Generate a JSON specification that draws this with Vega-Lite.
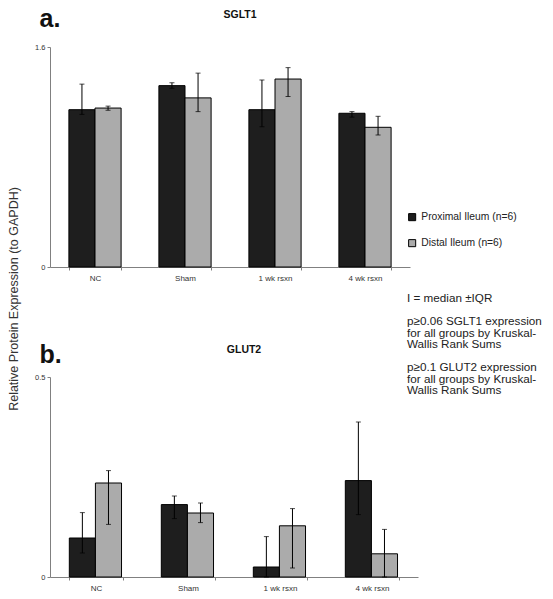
{
  "$schema": "https://vega.github.io/schema/vega-lite/v6.json",
  "padding": {"left": 8, "top": 6, "right": 5, "bottom": 2},
  "background": "white",
  "datasets": {
    "sglt": [
      {"group": "NC", "region": "Proximal Ileum (n=6)", "value": 1.144, "lo": 1.11, "hi": 1.33},
      {"group": "NC", "region": "Distal Ileum (n=6)", "value": 1.156, "lo": 1.14, "hi": 1.17},
      {"group": "Sham", "region": "Proximal Ileum (n=6)", "value": 1.319, "lo": 1.30, "hi": 1.34},
      {"group": "Sham", "region": "Distal Ileum (n=6)", "value": 1.23, "lo": 1.13, "hi": 1.41},
      {"group": "1 wk rsxn", "region": "Proximal Ileum (n=6)", "value": 1.144, "lo": 1.02, "hi": 1.36},
      {"group": "1 wk rsxn", "region": "Distal Ileum (n=6)", "value": 1.367, "lo": 1.24, "hi": 1.45},
      {"group": "4 wk rsxn", "region": "Proximal Ileum (n=6)", "value": 1.118, "lo": 1.09, "hi": 1.13},
      {"group": "4 wk rsxn", "region": "Distal Ileum (n=6)", "value": 1.016, "lo": 0.96, "hi": 1.096}
    ],
    "glut": [
      {"group": "NC", "region": "Proximal Ileum (n=6)", "value": 0.0975, "lo": 0.06, "hi": 0.161},
      {"group": "NC", "region": "Distal Ileum (n=6)", "value": 0.235, "lo": 0.1315, "hi": 0.266},
      {"group": "Sham", "region": "Proximal Ileum (n=6)", "value": 0.181, "lo": 0.146, "hi": 0.2025},
      {"group": "Sham", "region": "Distal Ileum (n=6)", "value": 0.16, "lo": 0.136, "hi": 0.185},
      {"group": "1 wk rsxn", "region": "Proximal Ileum (n=6)", "value": 0.025, "lo": 0.0, "hi": 0.101},
      {"group": "1 wk rsxn", "region": "Distal Ileum (n=6)", "value": 0.128, "lo": 0.0225, "hi": 0.171},
      {"group": "4 wk rsxn", "region": "Proximal Ileum (n=6)", "value": 0.241, "lo": 0.156, "hi": 0.3875},
      {"group": "4 wk rsxn", "region": "Distal Ileum (n=6)", "value": 0.058, "lo": 0.0, "hi": 0.119}
    ]
  },
  "title": {
    "text": "Relative Protein Expression (to GAPDH)",
    "orient": "left",
    "anchor": "middle",
    "font": "Liberation Sans",
    "fontSize": 12.5,
    "fontWeight": "normal",
    "color": "#333333",
    "offset": 14
  },
  "config": {
    "font": "Liberation Sans",
    "view": {"stroke": null},
    "axis": {"grid": false, "domainColor": "#808080", "tickColor": "#808080", "labelColor": "#333333", "labelFont": "Liberation Sans"},
    "axisX": {"tickBand": "extent", "labelAngle": 0, "labelFontSize": 8, "tickSize": 3, "labelPadding": 4, "title": null},
    "axisY": {"labelFontSize": 7.5, "tickSize": 3, "labelPadding": 2, "format": "~g"},
    "title": {"font": "Liberation Sans", "fontSize": 10.5, "fontWeight": "bold", "color": "#111111"},
    "legend": {
      "orient": "none",
      "legendX": 357,
      "legendY": 165,
      "symbolType": "square",
      "symbolSize": 50,
      "symbolStrokeColor": "black",
      "symbolStrokeWidth": 1,
      "labelFontSize": 10.3,
      "labelColor": "#222222",
      "labelFont": "Liberation Sans",
      "rowPadding": 14,
      "labelOffset": 4
    }
  },
  "spacing": 60,
  "resolve": {"scale": {"y": "independent"}},
  "vconcat": [
    {
      "width": 360,
      "height": 220,
      "title": {"text": "SGLT1", "anchor": "middle", "dx": 10, "offset": -14},
      "data": {"name": "sglt"},
      "encoding": {
        "x": {"field": "group", "type": "nominal", "sort": ["NC", "Sham", "1 wk rsxn", "4 wk rsxn"], "scale": {"paddingInner": 0.42, "paddingOuter": 0.21}},
        "xOffset": {"field": "region", "type": "nominal", "sort": ["Proximal Ileum (n=6)", "Distal Ileum (n=6)"], "scale": {"paddingInner": 0, "paddingOuter": 0}}
      },
      "layer": [
        {
          "mark": {"type": "bar", "stroke": "black", "strokeWidth": 1},
          "encoding": {
            "y": {"field": "value", "type": "quantitative", "scale": {"domain": [0, 1.6], "nice": false},
              "axis": {"values": [0, 1.6], "title": "a.", "titleAngle": 0, "titleFontSize": 25, "titleFontWeight": "bold", "titleColor": "#111111", "titleAlign": "left", "titleBaseline": "alphabetic", "titleX": -11, "titleY": -21}},
            "color": {"field": "region", "type": "nominal", "sort": ["Proximal Ileum (n=6)", "Distal Ileum (n=6)"],
              "scale": {"domain": ["Proximal Ileum (n=6)", "Distal Ileum (n=6)"], "range": ["#1e1e1e", "#ababab"]},
              "legend": {
                "title": ["I = median ±IQR", "\u200b", "p≥0.06 SGLT1 expression", "for all groups by Kruskal-", "Wallis Rank Sums", "\u200b", "p≥0.1 GLUT2 expression", "for all groups by Kruskal-", "Wallis Rank Sums"],
                "titleOrient": "bottom",
                "titleAnchor": "start",
                "titleAlign": "left",
                "titleFontSize": 11.7,
                "titleFontWeight": "normal",
                "titleColor": "#222222",
                "titleLineHeight": 11.5,
                "titlePadding": 44,
                "titleLimit": 300
              }}
          }
        },
        {
          "mark": {"type": "rule", "color": "black", "strokeWidth": 1},
          "encoding": {"y": {"field": "lo", "type": "quantitative"}, "y2": {"field": "hi"}}
        },
        {
          "mark": {"type": "tick", "color": "black", "size": 5, "thickness": 1},
          "encoding": {"y": {"field": "hi", "type": "quantitative"}}
        },
        {
          "mark": {"type": "tick", "color": "black", "size": 5, "thickness": 1},
          "encoding": {"y": {"field": "lo", "type": "quantitative"}}
        }
      ]
    },
    {
      "width": 368,
      "height": 200,
      "title": {"text": "GLUT2", "anchor": "middle", "dx": 10, "offset": -13},
      "data": {"name": "glut"},
      "encoding": {
        "x": {"field": "group", "type": "nominal", "sort": ["NC", "Sham", "1 wk rsxn", "4 wk rsxn"], "scale": {"paddingInner": 0.42, "paddingOuter": 0.21}},
        "xOffset": {"field": "region", "type": "nominal", "sort": ["Proximal Ileum (n=6)", "Distal Ileum (n=6)"], "scale": {"paddingInner": 0, "paddingOuter": 0}}
      },
      "layer": [
        {
          "mark": {"type": "bar", "stroke": "black", "strokeWidth": 1},
          "encoding": {
            "y": {"field": "value", "type": "quantitative", "scale": {"domain": [0, 0.5], "nice": false},
              "axis": {"values": [0, 0.5], "title": "b.", "titleAngle": 0, "titleFontSize": 25, "titleFontWeight": "bold", "titleColor": "#111111", "titleAlign": "left", "titleBaseline": "alphabetic", "titleX": -11, "titleY": -15}},
            "color": {"field": "region", "type": "nominal", "sort": ["Proximal Ileum (n=6)", "Distal Ileum (n=6)"]}
          }
        },
        {
          "mark": {"type": "rule", "color": "black", "strokeWidth": 1},
          "encoding": {"y": {"field": "lo", "type": "quantitative"}, "y2": {"field": "hi"}}
        },
        {
          "mark": {"type": "tick", "color": "black", "size": 5, "thickness": 1},
          "encoding": {"y": {"field": "hi", "type": "quantitative"}}
        },
        {
          "mark": {"type": "tick", "color": "black", "size": 5, "thickness": 1},
          "encoding": {"y": {"field": "lo", "type": "quantitative"}}
        }
      ]
    }
  ]
}
